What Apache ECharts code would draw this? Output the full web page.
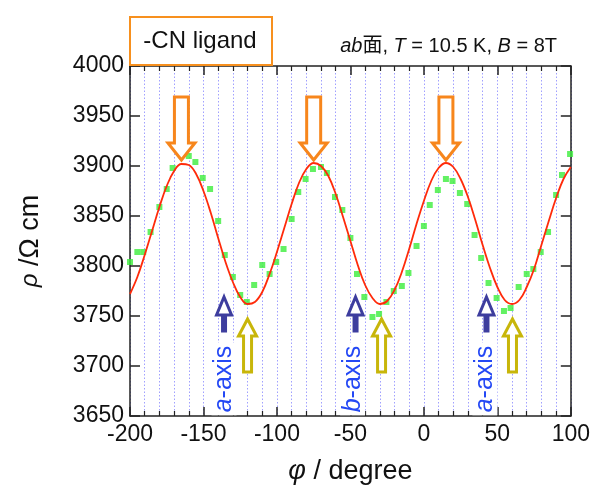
<!DOCTYPE html>
<html>
<head>
<meta charset="utf-8">
<script src="https://cdn.jsdelivr.net/npm/echarts@6/dist/echarts.min.js"></script>
<style>
  html, body { margin: 0; padding: 0; background: #fff; }
  #chart { width: 593px; height: 492px; }
</style>
</head>
<body>
<div id="chart"></div>
<script>
// Measured resistivity vs. field angle (green squares)
const measPhi = [-200, -195, -191, -186, -180, -175, -171, -160, -155.5, -150.5, -145.5, -140, -135.5, -130, -125,
  -120.5, -115.5, -110, -105, -100.5, -95.5, -90, -85.5, -80.5, -75.5, -70, -66, -60.5, -55.5, -50,
  -45.5, -40.5, -35, -30.5, -25.5, -20.5, -15, -10.5, -5, 0, 4, 9.5, 15, 19.5, 24.5,
  29.5, 34.5, 39, 44, 49.5, 54.5, 59, 64.5, 70, 74.5, 79.5, 84.5, 90, 94, 99.5];
const measRho = [3804, 3814, 3814, 3834, 3859, 3877, 3898, 3910, 3904, 3888, 3877, 3845, 3811, 3789, 3771,
  3764, 3781, 3801, 3792, 3804, 3817, 3847, 3874, 3887, 3897, 3899, 3893, 3869, 3856, 3828,
  3792, 3769, 3749, 3752, 3764, 3775, 3780, 3793, 3820, 3840, 3861, 3876, 3887, 3885, 3873,
  3862, 3831, 3808, 3783, 3768, 3755, 3758, 3779, 3792, 3797, 3814, 3834, 3871, 3891, 3912];

// Fitted curve (red), sampled every 5 degrees
const fitPhi = [-200, -195, -190, -185, -180, -175, -170, -165, -160, -155, -150, -145, -140, -135, -130,
  -125, -120, -115, -110, -105, -100, -95, -90, -85, -80, -75, -70, -65, -60, -55,
  -50, -45, -40, -35, -30, -25, -20, -15, -10, -5, 0, 5, 10, 15, 20,
  25, 30, 35, 40, 45, 50, 55, 60, 65, 70, 75, 80, 85, 90, 95, 100];
const fitRho = [3772, 3789, 3811, 3835, 3859, 3880, 3895, 3902, 3901, 3892, 3875, 3853, 3828, 3804, 3784,
  3769, 3762, 3764, 3774, 3792, 3814, 3838, 3862, 3883, 3897, 3903, 3900, 3890, 3872, 3849,
  3825, 3801, 3781, 3768, 3762, 3765, 3776, 3794, 3817, 3842, 3865, 3885, 3898, 3903, 3899,
  3887, 3869, 3846, 3821, 3798, 3779, 3766, 3762, 3766, 3779, 3797, 3821, 3845, 3868, 3887, 3899];

// Axis ticks
const xTicks = { min: -200, max: 100, step: 50 };
const yTicks = { min: 3650, max: 4000, step: 50 };

// Annotation anchors (arrow tips, axis labels) in data coordinates
const maxArrowPhi = [-165, -75, 15];
const maxArrowRho = [3906, 3906, 3906];
const axisArrowPhi = [-136, -46.5, 42.6];
const axisArrowRho = [3769, 3769, 3769];
const minArrowPhi = [-120, -28.8, 60.3];
const minArrowRho = [3747, 3747, 3747];
const axisLabelText = ['{i|a}-axis', '{i|b}-axis', '{i|a}-axis'];
const axisLabelPhi = [-136, -48.5, 41.5];
const axisLabelRho = [3687, 3687, 3687];

const FONT = '"Liberation Sans", "Noto Sans CJK JP", sans-serif';
const zip = (a, b) => a.map((v, i) => [v, b[i]]);

function arrowSeries(name, phi, rho, color, shapeFn) {
  return {
    type: 'custom', name: name, z: 10, silent: true,
    data: zip(phi, rho),
    renderItem: function (params, api) {
      const p = api.coord([api.value(0), api.value(1)]);
      return {
        type: 'polygon',
        shape: { points: shapeFn(p[0], p[1]) },
        style: { fill: '#fff', stroke: color, lineWidth: 3, lineJoin: 'miter' }
      };
    }
  };
}
// downward arrow, tip at (x, y)
const downArrow = (x, y) => [[x, y], [x - 13.5, y - 17], [x - 7, y - 17], [x - 7, y - 63],
  [x + 7, y - 63], [x + 7, y - 17], [x + 13.5, y - 17]];
// upward arrows, tip at (x, y)
const slimUpArrow = (x, y) => [[x, y], [x + 7.5, y + 18], [x + 1.5, y + 18], [x + 1.5, y + 34],
  [x - 1.5, y + 34], [x - 1.5, y + 18], [x - 7.5, y + 18]];
const wideUpArrow = (x, y) => [[x, y], [x + 9, y + 17], [x + 4, y + 17], [x + 4, y + 53],
  [x - 4, y + 53], [x - 4, y + 17], [x - 9, y + 17]];

const chart = echarts.init(document.getElementById('chart'), null, { renderer: 'canvas' });

const dotted = { color: '#a0a0ff', type: [1.5, 2], width: 1 };
const frame = { color: '#222', width: 1.5 };
const plain = v => String(v);

const xCommon = {
  type: 'value', min: xTicks.min, max: xTicks.max, interval: xTicks.step,
  axisLine: { show: true, onZero: false, lineStyle: frame },
  axisTick: { show: true, inside: true, length: 9, lineStyle: frame },
  minorTick: { show: true, splitNumber: 5, length: 5, lineStyle: { color: '#222', width: 1.2 } }
};
const yCommon = {
  type: 'value', min: yTicks.min, max: yTicks.max, interval: yTicks.step,
  axisLine: { show: true, onZero: false, lineStyle: frame },
  axisTick: { show: true, inside: true, length: 10, lineStyle: frame },
  splitLine: { show: false }
};

chart.setOption({
  animation: false,
  backgroundColor: '#fff',
  grid: { left: 130, right: 22, top: 66, bottom: 76 },
  xAxis: [
    Object.assign({}, xCommon, {
      position: 'bottom',
      splitLine: { show: true, lineStyle: dotted },
      minorSplitLine: { show: true, lineStyle: dotted },
      axisLabel: { fontSize: 23, color: '#111', margin: 7, fontFamily: FONT, formatter: plain },
      name: '{i|φ} / degree', nameLocation: 'middle', nameGap: 42,
      nameTextStyle: { fontSize: 27, color: '#111', fontFamily: FONT,
        rich: { i: { fontSize: 27, fontStyle: 'italic', fontFamily: FONT, color: '#111' } } }
    }),
    Object.assign({}, xCommon, {
      position: 'top', axisLabel: { show: false }, splitLine: { show: false }
    })
  ],
  yAxis: [
    Object.assign({}, yCommon, {
      position: 'left',
      axisLabel: { fontSize: 23, color: '#111', margin: 6, fontFamily: FONT, formatter: plain },
      name: '{i|ρ} /Ω cm', nameLocation: 'middle', nameGap: 86,
      nameTextStyle: { fontSize: 27, color: '#111', fontFamily: FONT,
        rich: { i: { fontSize: 24, fontStyle: 'italic', fontFamily: FONT, color: '#111' } } }
    }),
    Object.assign({}, yCommon, { position: 'right', axisLabel: { show: false } })
  ],
  graphic: [
    { type: 'rect', left: 129, top: 16, z: 5,
      shape: { width: 142, height: 48 },
      style: { fill: '#fff', stroke: '#f7901e', lineWidth: 2 } },
    { type: 'text', x: 200, y: 41, z: 6,
      style: { text: '-CN ligand', fontSize: 24, fontFamily: FONT, fill: '#111',
        align: 'center', verticalAlign: 'middle' } },
    { type: 'text', x: 557, y: 46, z: 6,
      style: { text: '{i|ab}面, {i|T} = 10.5 K, {i|B} = 8T', fontSize: 20, fontFamily: FONT, fill: '#111',
        align: 'right', verticalAlign: 'middle',
        rich: { i: { fontStyle: 'italic', fontSize: 20, fontFamily: FONT, fill: '#111' } } } }
  ],
  series: [
    {
      type: 'scatter', name: 'measured', z: 3,
      data: zip(measPhi, measRho),
      symbol: 'rect', symbolSize: 6,
      itemStyle: { color: '#3ced3c' }
    },
    {
      type: 'line', name: 'fit', z: 4,
      data: zip(fitPhi, fitRho),
      smooth: 0.4, showSymbol: false, symbol: 'none',
      lineStyle: { color: '#ff2a0a', width: 1.8 }
    },
    arrowSeries('maxima', maxArrowPhi, maxArrowRho, '#f7861c', downArrow),
    arrowSeries('axes', axisArrowPhi, axisArrowRho, '#3d3d9e', slimUpArrow),
    arrowSeries('minima', minArrowPhi, minArrowRho, '#c8b60a', wideUpArrow),
    {
      type: 'custom', name: 'axis labels', z: 9, silent: true,
      data: zip(axisLabelPhi, axisLabelRho),
      renderItem: function (params, api) {
        const p = api.coord([api.value(0), api.value(1)]);
        return {
          type: 'text', x: p[0], y: p[1], rotation: Math.PI / 2,
          style: {
            text: axisLabelText[params.dataIndex],
            fontSize: 25, fontFamily: FONT, fill: '#2448f5',
            align: 'center', verticalAlign: 'middle',
            backgroundColor: '#fff', padding: [0, 3, 0, 3],
            rich: { i: { fontStyle: 'italic', fontSize: 25, fontFamily: FONT, fill: '#2448f5' } }
          }
        };
      }
    }
  ]
});
</script>
</body>
</html>
